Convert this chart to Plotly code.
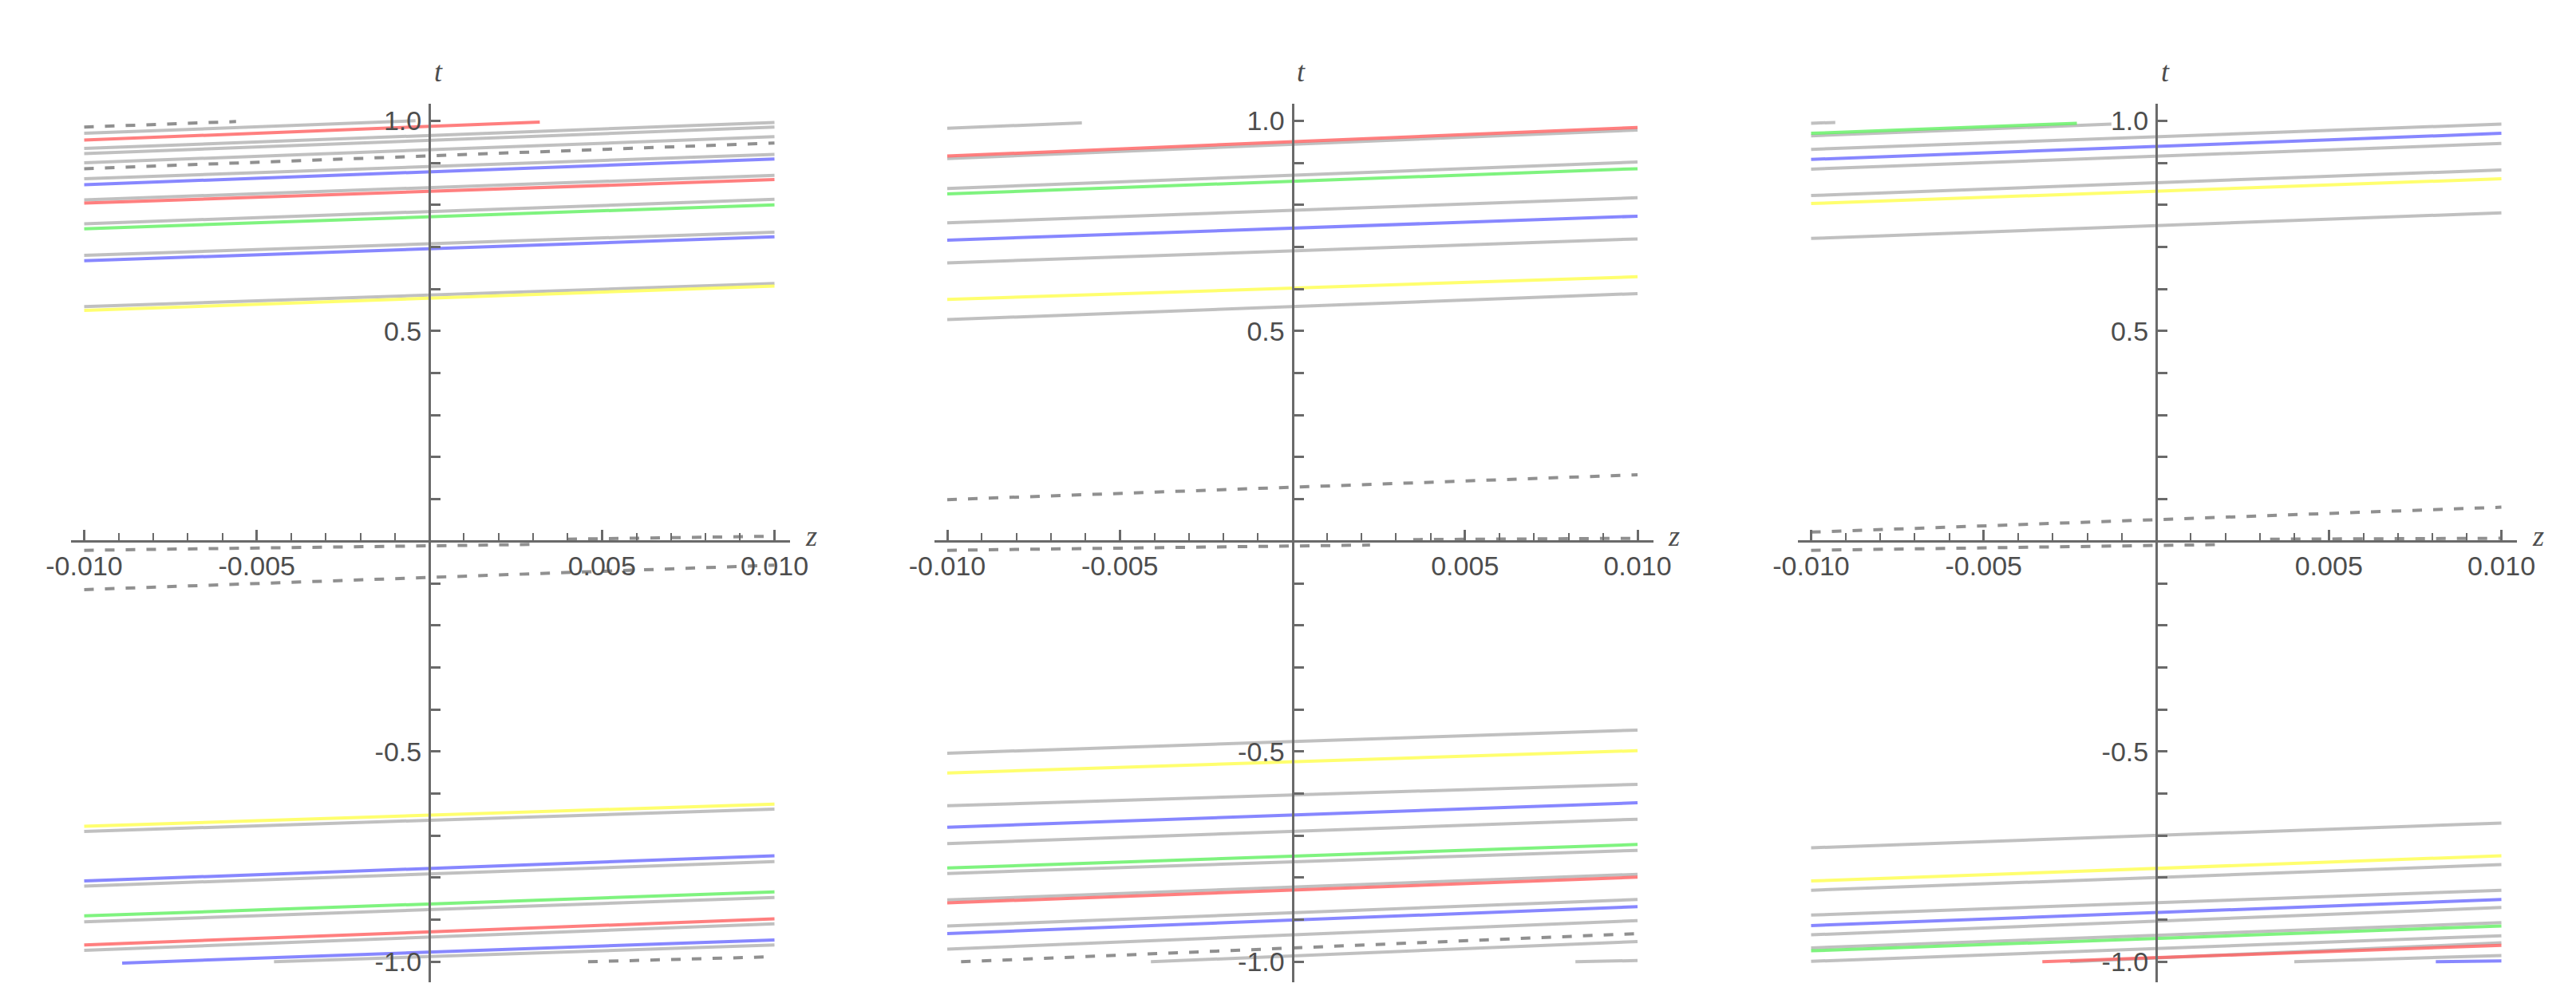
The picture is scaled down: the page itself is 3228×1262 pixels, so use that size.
"""
Three-panel t(z) line chart, Mathematica style axes crossing at the origin.
"""

import plotly.graph_objects as go

# ---- data: visible segments as (z_start, t_start, z_end, t_end) ----

# panel 1
P1_RED = [(-0.01, 0.954, 0.0032, 0.997), (-0.01, 0.804, 0.01, 0.860),
          (-0.01, -0.960, 0.01, -0.898)]
P1_GREEN = [(-0.01, 0.743, 0.01, 0.800), (-0.01, -0.891, 0.01, -0.834)]
P1_BLUE = [(-0.01, 0.848, 0.01, 0.909), (-0.01, 0.667, 0.01, 0.724),
           (-0.01, -0.808, 0.01, -0.748), (-0.0089, -1.003, 0.01, -0.948)]
P1_YELLOW = [(-0.01, 0.549, 0.01, 0.607), (-0.01, -0.678, 0.01, -0.625)]
P1_GRAY = [(-0.01, 0.970, -0.0004, 1.0), (-0.01, 0.934, 0.01, 0.996),
           (-0.01, 0.922, 0.01, 0.985), (-0.01, 0.900, 0.01, 0.962),
           (-0.01, 0.862, 0.01, 0.920), (-0.01, 0.812, 0.01, 0.870),
           (-0.01, 0.755, 0.01, 0.813), (-0.01, 0.680, 0.01, 0.735),
           (-0.01, 0.558, 0.01, 0.613),
           (-0.01, -0.690, 0.01, -0.637), (-0.01, -0.820, 0.01, -0.762),
           (-0.01, -0.905, 0.01, -0.847), (-0.01, -0.973, 0.01, -0.910),
           (-0.0045, -1.0, 0.01, -0.960)]
P1_DASHED = [(-0.01, 0.985, -0.0056, 0.998), (-0.01, 0.886, 0.01, 0.947),
             (-0.01, -0.0215, 0.003, -0.0076), (0.004, 0.005, 0.01, 0.012),
             (-0.01, -0.115, 0.01, -0.057), (0.0046, -1.0, 0.01, -0.988)]

# panel 2
P2_RED = [(-0.01, 0.916, 0.01, 0.984), (-0.01, -0.860, 0.01, -0.799)]
P2_GREEN = [(-0.01, 0.826, 0.01, 0.886), (-0.01, -0.777, 0.01, -0.721)]
P2_BLUE = [(-0.01, 0.716, 0.01, 0.773), (-0.01, -0.680, 0.01, -0.622),
           (-0.01, -0.933, 0.01, -0.869)]
P2_YELLOW = [(-0.01, 0.575, 0.01, 0.629), (-0.01, -0.551, 0.01, -0.498)]
P2_GRAY = [(-0.01, 0.982, -0.0061, 0.995), (-0.01, 0.910, 0.01, 0.978),
           (-0.01, 0.839, 0.01, 0.902), (-0.01, 0.757, 0.01, 0.817),
           (-0.01, 0.662, 0.01, 0.719), (-0.01, 0.527, 0.01, 0.589),
           (-0.01, -0.504, 0.01, -0.449), (-0.01, -0.629, 0.01, -0.578),
           (-0.01, -0.719, 0.01, -0.661), (-0.01, -0.790, 0.01, -0.735),
           (-0.01, -0.853, 0.01, -0.792), (-0.01, -0.915, 0.01, -0.852),
           (-0.01, -0.970, 0.01, -0.902), (-0.0041, -1.0, 0.01, -0.952),
           (0.0082, -1.0, 0.01, -0.997)]
P2_DASHED = [(-0.01, 0.099, 0.01, 0.158), (-0.01, -0.0215, 0.00225, -0.009),
             (0.0035, 0.004, 0.01, 0.007), (-0.0096, -1.0, 0.01, -0.933)]

# panel 3
P3_RED = [(-0.0033, -1.0, 0.01, -0.961)]
P3_GREEN = [(-0.01, 0.970, -0.0023, 0.994), (-0.01, -0.974, 0.01, -0.915)]
P3_BLUE = [(-0.01, 0.908, 0.01, 0.970), (-0.01, -0.914, 0.01, -0.852),
           (0.0081, -1.0, 0.01, -0.998)]
P3_YELLOW = [(-0.01, 0.803, 0.01, 0.862), (-0.01, -0.808, 0.01, -0.748)]
P3_GRAY = [(-0.01, 0.994, -0.0093, 0.996), (-0.01, 0.964, -0.0013, 0.992),
           (-0.01, 0.932, 0.01, 0.992), (-0.01, 0.885, 0.01, 0.946),
           (-0.01, 0.822, 0.01, 0.883), (-0.01, 0.720, 0.01, 0.781),
           (-0.01, -0.729, 0.01, -0.670), (-0.01, -0.830, 0.01, -0.769),
           (-0.01, -0.889, 0.01, -0.830), (-0.01, -0.936, 0.01, -0.871),
           (-0.01, -0.967, 0.01, -0.907), (-0.01, -0.999, 0.01, -0.938),
           (-0.0025, -1.0, 0.01, -0.955), (0.004, -1.0, 0.01, -0.985)]
P3_DASHED = [(-0.01, 0.0217, 0.01, 0.081), (-0.01, -0.0215, 0.0017, -0.008),
             (0.0033, 0.005, 0.01, 0.007)]

PANELS = [
    dict(gray=P1_GRAY, dashed=P1_DASHED, red=P1_RED, green=P1_GREEN,
         blue=P1_BLUE, yellow=P1_YELLOW),
    dict(gray=P2_GRAY, dashed=P2_DASHED, red=P2_RED, green=P2_GREEN,
         blue=P2_BLUE, yellow=P2_YELLOW),
    dict(gray=P3_GRAY, dashed=P3_DASHED, red=P3_RED, green=P3_GREEN,
         blue=P3_BLUE, yellow=P3_YELLOW),
]

X_TICKS = [-0.01, -0.005, 0.005, 0.01]
X_TICKTEXT = ['-0.010', '-0.005', '0.005', '0.010']
Y_TICKS = [-1.0, -0.5, 0.5, 1.0]
Y_TICKTEXT = ['-1.0', '-0.5', '0.5', '1.0']

# ---- layout geometry (pixels) ----
W, H = 3228, 1262
CENTERS = [530, 1611.5, 2694]     # x pixel of the t axis in each panel
PX_PER_Z = 43250
LEFT_PX, RIGHT_PX = 449, 452      # extent of z axis line around origin
TOP_PX, BOT_PX = 121.7, 1222.7    # extent of t axis line
ZERO_Y_PX = 670.3
PX_PER_T = 527

STYLES = {
    'gray': dict(color='rgba(150,150,150,0.6)', width=4),
    'dashed': dict(color='rgba(125,125,125,0.85)', width=4, dash='12px,14px'),
    'red': dict(color='rgba(255,95,95,0.8)', width=4),
    'green': dict(color='rgba(95,240,95,0.8)', width=4),
    'blue': dict(color='rgba(105,105,255,0.8)', width=4),
    'yellow': dict(color='rgba(255,255,95,0.9)', width=4),
}

AXIS_COLOR = '#6a6a6a'
LABEL_FONT = dict(family='Liberation Sans Narrow, Arial Narrow, Liberation Sans, Arial',
                  size=34, color='#4d4d4d')
TITLE_FONT = dict(family='Liberation Serif, Times New Roman', size=36, color='#4d4d4d')


def _segments_xy(segs):
    xs, ys = [], []
    for z0, t0, z1, t1 in segs:
        xs += [z0, z1, None]
        ys += [t0, t1, None]
    return xs, ys


fig = go.Figure()

for i, panel in enumerate(PANELS):
    suffix = '' if i == 0 else str(i + 1)
    for key in ['gray', 'dashed', 'red', 'green', 'blue', 'yellow']:
        xs, ys = _segments_xy(panel[key])
        fig.add_trace(go.Scatter(
            x=xs, y=ys, mode='lines', line=STYLES[key],
            xaxis='x' + suffix, yaxis='y' + suffix,
            showlegend=False, hoverinfo='skip'
        ))

layout = dict(
    width=W, height=H,
    margin=dict(l=0, r=0, t=0, b=0, autoexpand=False),
    paper_bgcolor='white', plot_bgcolor='white',
    showlegend=False,
)

y_dom = [1 - BOT_PX / H, 1 - TOP_PX / H]
y_rng = [(ZERO_Y_PX - BOT_PX) / PX_PER_T, (ZERO_Y_PX - TOP_PX) / PX_PER_T]
x_rng = [-LEFT_PX / PX_PER_Z, RIGHT_PX / PX_PER_Z]
annotations = []

for i, c in enumerate(CENTERS):
    suffix = '' if i == 0 else str(i + 1)
    layout['xaxis' + suffix] = dict(
        domain=[(c - LEFT_PX) / W, (c + RIGHT_PX) / W],
        range=x_rng, anchor='free', position=1 - ZERO_Y_PX / H,
        showgrid=False, zeroline=False,
        showline=True, linecolor=AXIS_COLOR, linewidth=3,
        tickmode='array', tickvals=X_TICKS, ticktext=X_TICKTEXT,
        ticks='inside', ticklen=13, tickwidth=2.5, tickcolor=AXIS_COLOR,
        minor=dict(tickmode='linear', tick0=0, dtick=0.001, ticks='inside',
                   ticklen=9, tickwidth=2, tickcolor=AXIS_COLOR),
        tickfont=LABEL_FONT, ticklabelstandoff=0,
        fixedrange=True,
    )
    layout['yaxis' + suffix] = dict(
        domain=y_dom, range=y_rng, anchor='free', position=c / W,
        showgrid=False, zeroline=False,
        showline=True, linecolor=AXIS_COLOR, linewidth=3,
        tickmode='array', tickvals=Y_TICKS, ticktext=Y_TICKTEXT,
        ticks='inside', ticklen=12, tickwidth=3, tickcolor=AXIS_COLOR,
        minor=dict(tickmode='linear', tick0=0, dtick=0.1, ticks='inside',
                   ticklen=12, tickwidth=3, tickcolor=AXIS_COLOR),
        tickfont=LABEL_FONT, ticklabelstandoff=2,
        fixedrange=True,
    )
    annotations.append(dict(
        text='<i>t</i>', xref='paper', yref='paper',
        x=(c + 11) / W, y=1 - 82 / H, xanchor='center', yanchor='middle',
        showarrow=False, font=TITLE_FONT
    ))
    annotations.append(dict(
        text='<i>z</i>', xref='paper', yref='paper',
        x=(c + 478) / W, y=1 - 664 / H, xanchor='center', yanchor='middle',
        showarrow=False, font=TITLE_FONT
    ))

layout['annotations'] = annotations
fig.update_layout(**layout)

fig.write_html("out.html")
